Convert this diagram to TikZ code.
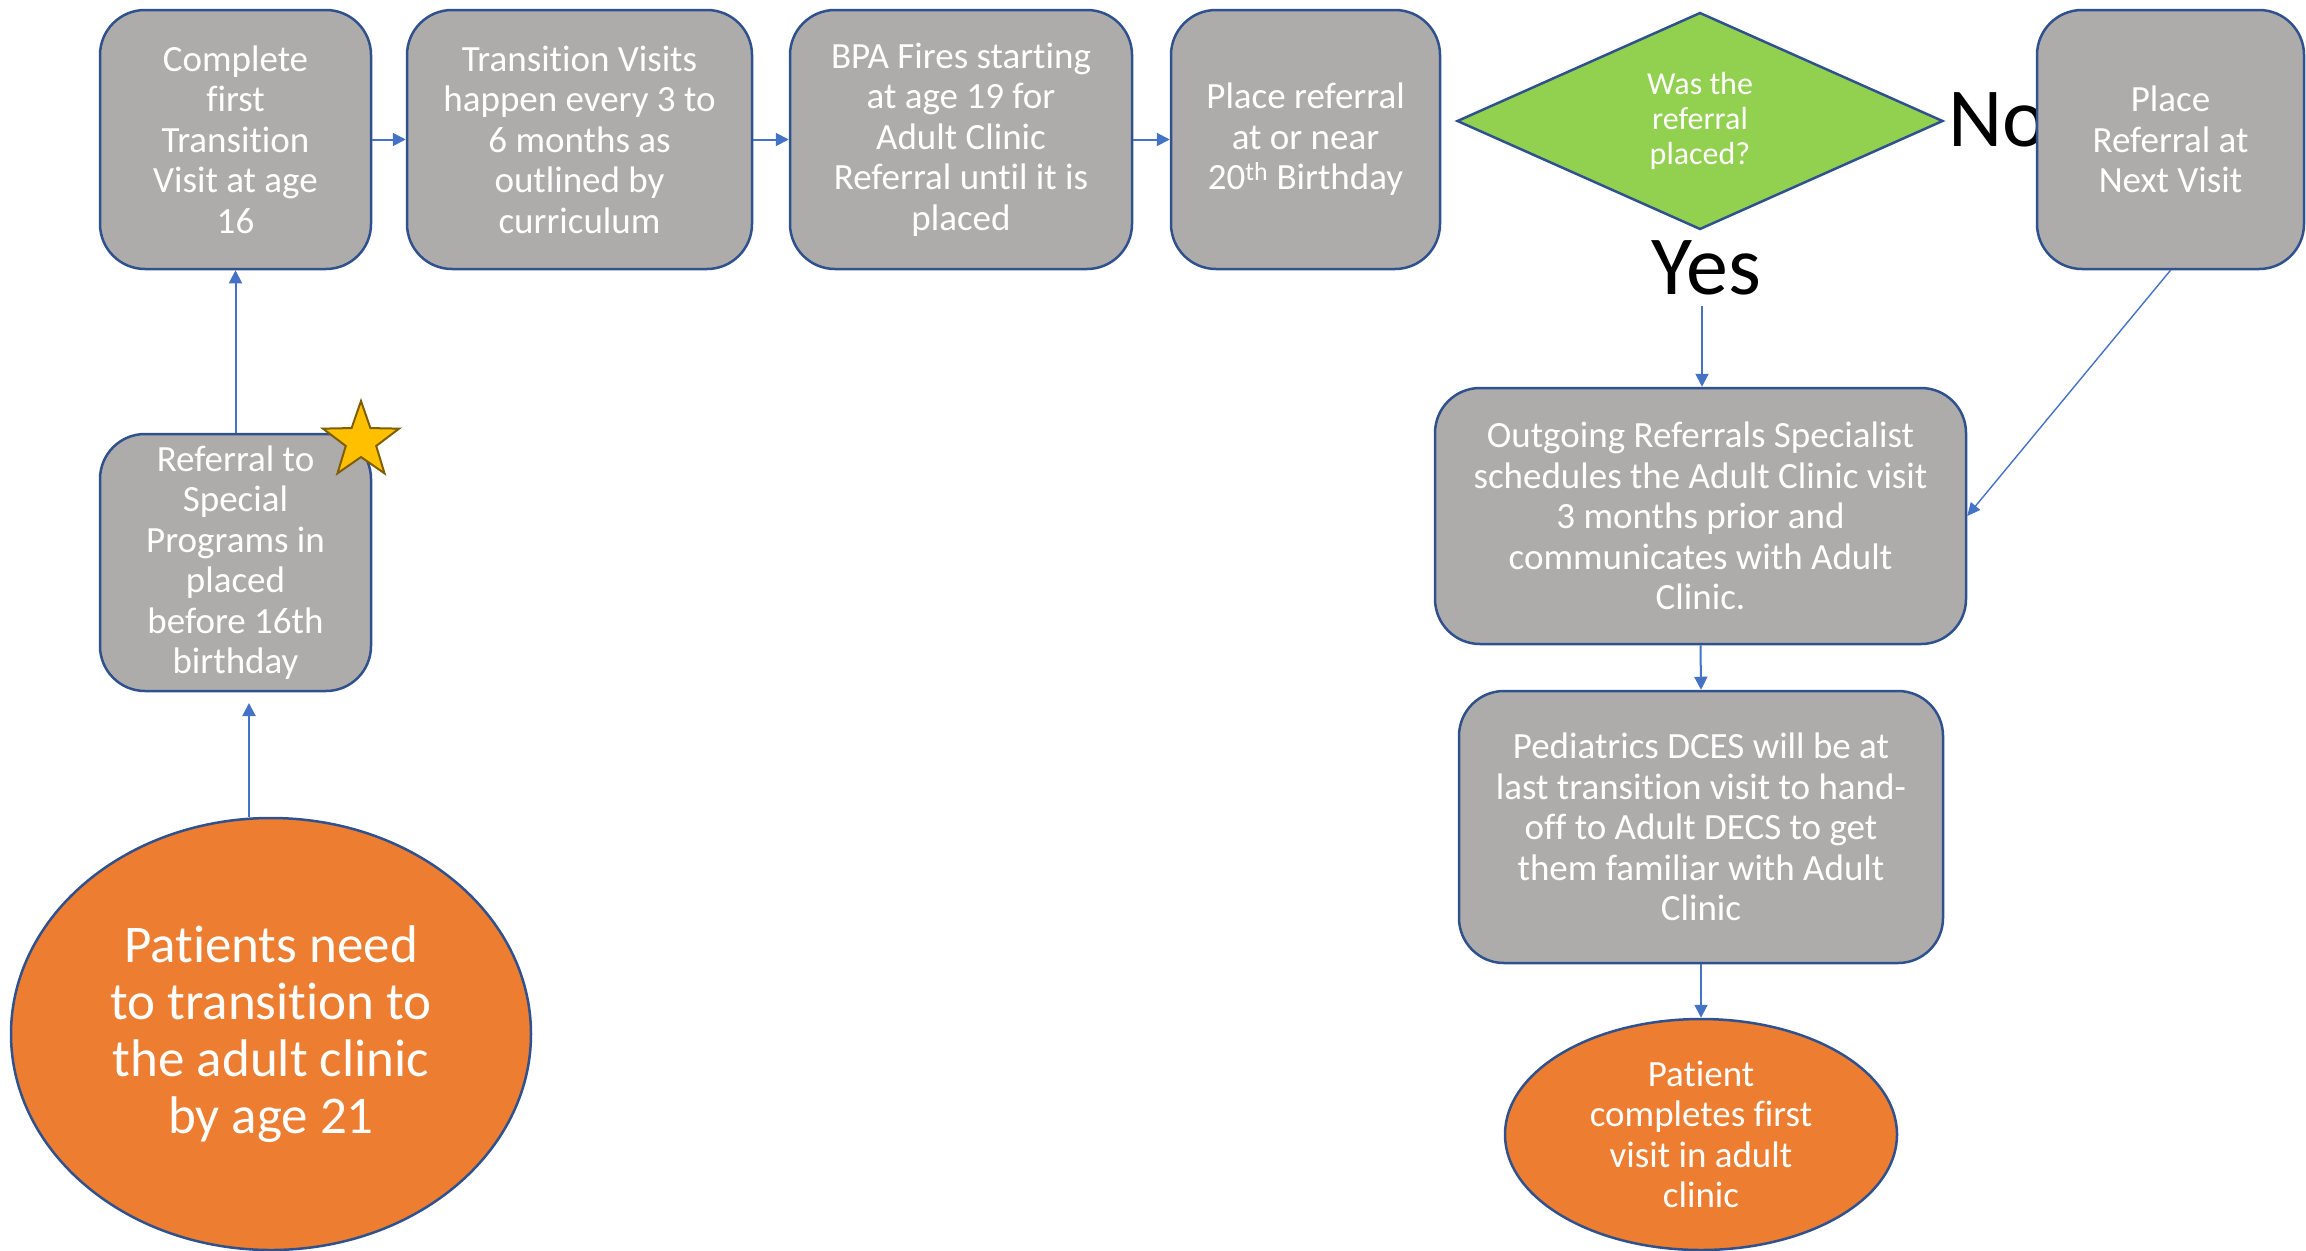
\documentclass[tikz,border=0pt]{standalone}
\usepackage{fontspec}
\setmainfont{Carlito}[RawFeature={-liga;-clig;-calt;-dlig;-rlig}]
\usetikzlibrary{shapes.geometric,arrows.meta}

\definecolor{boxgray}{HTML}{AEABAB}
\definecolor{edgeblue}{HTML}{2F528F}
\definecolor{arrowblue}{HTML}{4472C4}
\definecolor{decgreen}{HTML}{92D050}
\definecolor{endorange}{HTML}{ED7D31}
\definecolor{stargold}{HTML}{FFC000}
\definecolor{staredge}{HTML}{7F6000}

\tikzset{
  stepbox/.style={draw=edgeblue, line width=2.5pt, fill=boxgray, rounded corners=45pt,
    text=white, align=center, inner sep=0pt,
    font=\fontsize{37}{40.5}\selectfont},
  endpoint/.style={ellipse, draw=edgeblue, line width=2.5pt, fill=endorange,
    text=white, align=center, inner sep=0pt},
  decision/.style={diamond, draw=edgeblue, line width=2.5pt, fill=decgreen,
    text=white, align=center, inner sep=0pt, aspect=2.24,
    font=\fontsize{32}{34.6}\selectfont},
  answer/.style={text=black, inner sep=0pt, font=\fontsize{84}{90}\selectfont},
  arr/.style={draw=arrowblue, line width=2pt, -{Triangle[length=13pt,width=13pt]}},
  thinarr/.style={draw=arrowblue, line width=1.4pt, -{Triangle[length=13pt,width=12pt]}}
}

\begin{document}
\begin{tikzpicture}[x=1pt,y=-1pt]
\useasboundingbox (0,0) rectangle (2306,1250);

% top row of steps
\node[stepbox, minimum width=271pt, minimum height=259pt] (b1) at (235.5,139.5)
  {Complete\\first\\Transition\\Visit at age\\16};
\node[stepbox, minimum width=345pt, minimum height=259pt] (b2) at (579.5,139.5)
  {Transition Visits\\happen every 3 to\\6 months as\\outlined by\\curriculum};
\node[stepbox, minimum width=342pt, minimum height=259pt] (b3) at (961,139.5)
  {BPA Fires starting\\at age 19 for\\Adult Clinic\\Referral until it is\\placed};
\node[stepbox, minimum width=269pt, minimum height=259pt] (b4) at (1305.5,139.5)
  {Place referral\\at or near\\20\textsuperscript{th} Birthday};

% decision
\node[decision, minimum width=486pt, minimum height=217pt] (q) at (1700,121)
  {Was the\\referral\\placed?};
\node[answer, anchor=base west] (no) at (1948,146) {No};
\node[answer, anchor=base] (yes) at (1706,294) {Yes};

\node[stepbox, minimum width=267pt, minimum height=259pt] (b6) at (2170.5,139.5)
  {Place\\Referral at\\Next Visit};

% left column
\node[stepbox, minimum width=271pt, minimum height=257pt] (b7) at (235.5,562.5)
  {Referral to\\Special\\Programs in\\placed\\before 16th\\birthday};
\node[star, star points=5, star point ratio=2.5, minimum size=80pt, inner sep=0pt,
  fill=stargold, draw=staredge, line width=2pt] (star) at (361,441) {};
\node[endpoint, minimum width=520pt, minimum height=432pt,
  font=\fontsize{53}{57}\selectfont] (e1) at (271,1034)
  {Patients need\\to transition to\\the adult clinic\\by age 21};

% right column
\node[stepbox, minimum width=531pt, minimum height=256pt] (b8) at (1700.5,516)
  {Outgoing Referrals Specialist\\schedules the Adult Clinic visit\\3 months prior and\\communicates with Adult\\Clinic.};
\node[stepbox, minimum width=484pt, minimum height=272pt] (b9) at (1701,827)
  {Pediatrics DCES will be at\\last transition visit to hand-\\off to Adult DECS to get\\them familiar with Adult\\Clinic};
\node[endpoint, minimum width=392pt, minimum height=231pt,
  font=\fontsize{37}{40.5}\selectfont] (e2) at (1701,1134.5)
  {Patient\\completes first\\visit in adult\\clinic};

% connectors
\coordinate (b7tip) at (249,703);
\coordinate (ystart) at (1702,306);

\draw[arr] (b1.east) -- (b2.west);
\draw[arr] (b2.east) -- (b3.west);
\draw[arr] (b3.east) -- (b4.west);
\draw[arr] (b7.north) -- (b1.south);
\draw[arr] (e1.north -| b7tip) -- (b7tip);
\draw[arr] (ystart) -- (ystart |- b8.north);
\draw[thinarr] (b6.south) -- (b8.east);
\draw[arr] (b8.south) -- (b9.north);
\draw[arr] (b9.south) -- (e2.north);
\end{tikzpicture}
\end{document}
